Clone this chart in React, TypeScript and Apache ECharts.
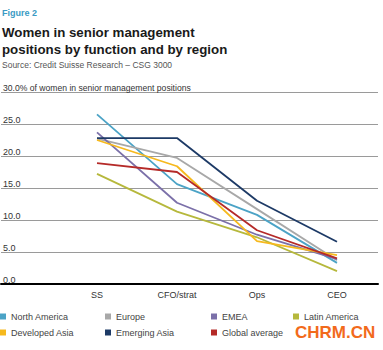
import React, { useEffect, useRef } from "react";
import * as echarts from "echarts";

const categories = ["SS", "CFO/strat", "Ops", "CEO"];
const northAmerica = [26.5, 15.6, 10.8, 3.3];
const europe = [22.7, 19.7, 11.7, 3.7];
const emea = [23.7, 12.7, 7.7, 3.9];
const latinAmerica = [17.2, 11.3, 7.3, 2.0];
const developedAsia = [22.5, 18.4, 6.7, 4.5];
const emergingAsia = [22.8, 22.8, 13.0, 6.6];
const globalAverage = [18.9, 17.5, 8.4, 4.0];

const seriesNames = [
  "North America",
  "Europe",
  "EMEA",
  "Latin America",
  "Developed Asia",
  "Emerging Asia",
  "Global average",
];
const seriesData = [northAmerica, europe, emea, latinAmerica, developedAsia, emergingAsia, globalAverage];
const colors = ["#4ba3c6", "#a8a8a8", "#7b70a9", "#b6b83c", "#f6b91e", "#1d3a66", "#b52a28"];

const FONT = "'Liberation Sans', Arial, sans-serif";

export default function App() {
  const ref = useRef<HTMLDivElement>(null);
  useEffect(() => {
    if (!ref.current) return;
    const chart = echarts.init(ref.current, undefined, { renderer: "svg" });
    const legendPos = [
      [0, 312],
      [105, 312],
      [211, 312],
      [293, 312],
      [0, 328],
      [105, 328],
      [211, 328],
    ];
    chart.setOption({
      animation: false,
      backgroundColor: "#fff",
      textStyle: { fontFamily: FONT },
      title: [
        {
          text: "Figure 2",
          left: 2,
          top: 8,
          padding: 0,
          textStyle: { fontSize: 9, fontWeight: "bold", color: "#3a9ac4", fontFamily: FONT },
        },
        {
          text: "Women in senior management\npositions by function and by region",
          left: 2,
          top: 24,
          padding: 0,
          textStyle: { fontSize: 13.3, lineHeight: 17, fontWeight: "bold", color: "#1a1a1a", fontFamily: FONT },
        },
        {
          text: "Source: Credit Suisse Research – CSG 3000",
          left: 2,
          top: 60,
          padding: 0,
          textStyle: { fontSize: 8.5, fontWeight: "normal", color: "#555", fontFamily: FONT },
        },
      ],
      legend: seriesNames.map((name, i) => ({
        data: [name],
        left: legendPos[i][0],
        top: legendPos[i][1],
        padding: 0,
        icon: "rect",
        itemWidth: 6,
        itemHeight: 6,
        selectedMode: false,
        textStyle: { fontSize: 9, color: "#444", fontFamily: FONT },
      })),
      grid: [
        { left: 0, width: 378, top: 92, bottom: 66, containLabel: false },
        { left: 57, width: 320, top: 92, bottom: 66, containLabel: false },
      ],
      xAxis: [
        {
          gridIndex: 0,
          type: "value",
          min: 0,
          max: 1,
          axisLabel: { show: false },
          axisTick: { show: false },
          splitLine: { show: false },
          axisLine: { show: true, lineStyle: { color: "#000", width: 2 } },
          z: 5,
        },
        {
          gridIndex: 1,
          type: "category",
          data: categories,
          axisLine: { show: false },
          axisTick: { show: false },
          axisLabel: { margin: 6, fontSize: 9, color: "#333", fontFamily: FONT },
        },
      ],
      yAxis: [
        {
          gridIndex: 0,
          type: "value",
          min: 0,
          max: 30,
          interval: 5,
          axisLine: { show: false },
          axisTick: { show: false },
          splitLine: { show: true, lineStyle: { color: "#9a9a9a", width: 1 } },
          axisLabel: {
            inside: true,
            margin: 2,
            verticalAlign: "bottom",
            fontSize: 9,
            color: "#333",
            fontFamily: FONT,
            formatter: (v: number) =>
              v === 30 ? "{s|30.0% of women in senior management positions}" : v.toFixed(1),
            rich: { s: { fontSize: 8.6, color: "#333", fontFamily: FONT } },
          },
        },
        {
          gridIndex: 1,
          type: "value",
          min: 0,
          max: 30,
          show: false,
          splitLine: { show: false },
        },
      ],
      graphic: [
        {
          type: "text",
          left: 295,
          top: 324,
          style: { text: "CHRM.CN", fontSize: 17, fontWeight: "bold", fill: "#f26a1b", fontFamily: FONT },
        },
      ],
      series: seriesNames.map((name, i) => ({
        name,
        type: "line",
        xAxisIndex: 1,
        yAxisIndex: 1,
        data: seriesData[i],
        symbol: "none",
        color: colors[i],
        lineStyle: { width: 1.8, color: colors[i] },
      })),
    });
    return () => chart.dispose();
  }, []);
  return (
    <div
      ref={ref}
      style={{ position: "absolute", left: 0, top: 0, width: 383, height: 350 }}
    />
  );
}
